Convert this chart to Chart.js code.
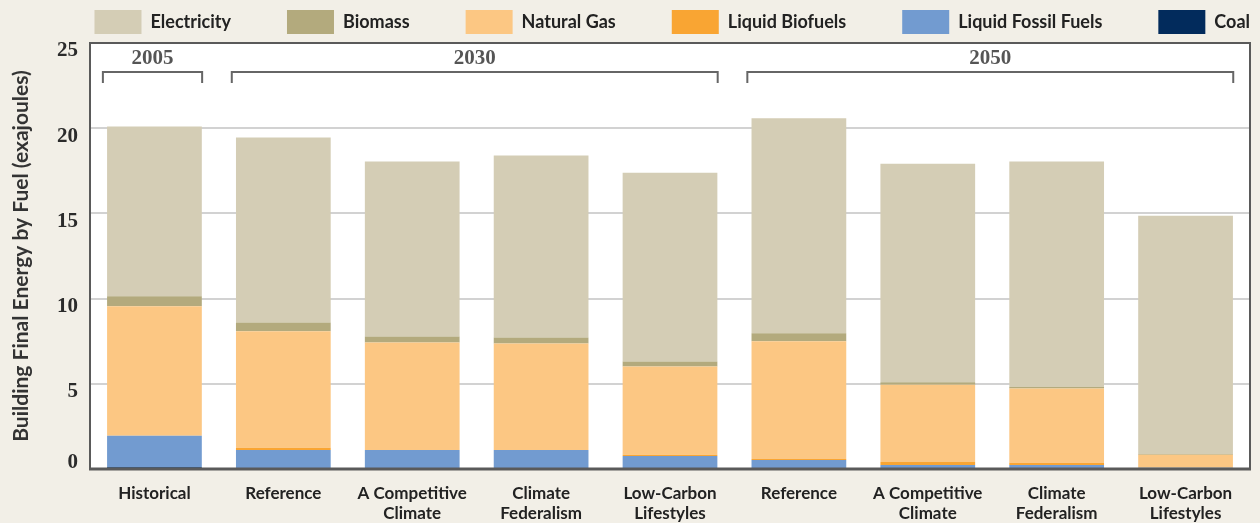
<!DOCTYPE html>
<html>
<head>
<meta charset="utf-8">
<title>Building Final Energy by Fuel</title>
<script src="https://cdn.jsdelivr.net/npm/chart.js@4/dist/chart.umd.min.js"></script>
<style>
  html, body { margin: 0; padding: 0; background: #f2efe7; }
  #wrap { width: 1260px; height: 523px; position: relative; }
</style>
</head>
<body>
<div id="wrap"><canvas id="fuelChart"></canvas></div>
<script>
// ─── DATA ──────────────────────────────────────────────────
const categories = [
  'Historical', 'Reference', ['A Competitive', 'Climate'], ['Climate', 'Federalism'], ['Low-Carbon', 'Lifestyles'],
  'Reference', ['A Competitive', 'Climate'], ['Climate', 'Federalism'], ['Low-Carbon', 'Lifestyles'],
];
const coal          = [0.10, 0.03, 0.03, 0.03, 0.03, 0.03, 0.02, 0.02, 0.01];
const liquidFossil  = [1.85, 1.09, 1.09, 1.09, 0.74, 0.50, 0.22, 0.22, 0.07];
const liquidBiofuel = [0.00, 0.12, 0.00, 0.00, 0.07, 0.06, 0.17, 0.13, 0.00];
const naturalGas    = [7.60, 6.84, 6.31, 6.25, 5.17, 6.90, 4.54, 4.35, 0.75];
const biomass       = [0.59, 0.52, 0.35, 0.35, 0.30, 0.47, 0.14, 0.11, 0.05];
const electricity   = [9.96, 10.86, 10.26, 10.68, 11.08, 12.62, 12.83, 13.21, 13.98];

const yTicks = [0, 5, 10, 15, 20, 25];

// year groups: label, first category index, last category index
const yearGroups = [
  { label: '2005', from: 0, to: 0 },
  { label: '2030', from: 1, to: 4 },
  { label: '2050', from: 5, to: 8 },
];

const SANS  = 'Lato, "Open Sans", sans-serif';
const SERIF = '"Liberation Serif", "DejaVu Serif", serif';

// ─── PLUGINS ───────────────────────────────────────────────
// white plot area
const plotBackground = {
  id: 'plotBackground',
  beforeDraw(chart) {
    const { ctx, chartArea: a } = chart;
    ctx.save();
    ctx.fillStyle = '#ffffff';
    ctx.fillRect(a.left, a.top, a.right - a.left, a.bottom - a.top);
    ctx.restore();
  },
};

// keep the legend on one line in a 43px strip with wide gaps between items
const legendStrip = {
  id: 'legendStrip',
  beforeInit(chart) {
    const fit = chart.legend.fit;
    chart.legend.fit = function () {
      const maxW = this.maxWidth;
      this.maxWidth = 5000;
      fit.call(this);
      this.maxWidth = maxW;
      this.width = maxW;
      this.height = 43;
    };
  },
  afterLayout(chart) {
    const pad = chart.legend.options.labels.padding;
    chart.legend.top = 10 - pad;
    chart.legend.right += pad;   // drop the trailing gap after "Coal"
  },
};

// frame, y tick labels, year brackets
const decorations = {
  id: 'decorations',
  afterDraw(chart) {
    const { ctx, chartArea: a, scales: { x, y } } = chart;
    ctx.save();

    // frame
    ctx.strokeStyle = '#5a5a5a';
    ctx.lineWidth = 2;
    ctx.strokeRect(a.left, a.top, a.right - a.left, a.bottom - a.top);
    ctx.beginPath();
    ctx.lineWidth = 3;
    ctx.moveTo(a.left - 1, a.bottom);
    ctx.lineTo(a.right + 1, a.bottom);
    ctx.stroke();

    // y tick labels (sit a little under their gridlines, except 0)
    ctx.font = 'bold 21px ' + SERIF;
    ctx.fillStyle = '#2b2b2b';
    ctx.textAlign = 'right';
    ctx.textBaseline = 'middle';
    yTicks.forEach(v => {
      const py = y.getPixelForValue(v) + (v === 0 ? -6 : 8);
      ctx.fillText(String(v), a.left - 12, py);
    });

    // year brackets
    const step = x.getPixelForValue(1) - x.getPixelForValue(0);
    ctx.strokeStyle = '#666666';
    ctx.lineWidth = 2;
    ctx.font = 'bold 21px ' + SERIF;
    ctx.fillStyle = '#555555';
    ctx.textAlign = 'center';
    ctx.textBaseline = 'middle';
    yearGroups.forEach(g => {
      const x0 = x.getPixelForValue(g.from) - step * 0.4;
      const x1 = x.getPixelForValue(g.to) + step * 0.37;
      const top = a.top + 29;
      ctx.beginPath();
      ctx.moveTo(x0, top + 11);
      ctx.lineTo(x0, top);
      ctx.lineTo(x1, top);
      ctx.lineTo(x1, top + 11);
      ctx.stroke();
      ctx.fillText(g.label, (x0 + x1) / 2, a.top + 16);
    });

    ctx.restore();
  },
};

// ─── CHART ─────────────────────────────────────────────────
const ds = (label, data, color) => ({
  label, data, backgroundColor: color, borderWidth: 0,
  barPercentage: 0.735, categoryPercentage: 1.0,
});

new Chart(document.getElementById('fuelChart'), {
  type: 'bar',
  data: {
    labels: categories,
    datasets: [
      ds('Coal',                coal,          '#022b5c'),
      ds('Liquid Fossil Fuels', liquidFossil,  '#729bd0'),
      ds('Liquid Biofuels',     liquidBiofuel, '#f9a533'),
      ds('Natural Gas',         naturalGas,    '#fcc783'),
      ds('Biomass',             biomass,       '#b3aa7d'),
      ds('Electricity',         electricity,   '#d4cdb5'),
    ],
  },
  options: {
    responsive: true,
    maintainAspectRatio: false,
    animation: false,
    layout: { padding: { left: 0, right: 10, top: 0, bottom: 0 } },
    plugins: {
      tooltip: { enabled: false },
      legend: {
        position: 'top',
        align: 'end',
        reverse: true,
        labels: {
          boxWidth: 47,
          boxHeight: 24,
          padding: 56,
          color: '#222222',
          font: { family: SANS, size: 18, weight: 'bold' },
        },
      },
    },
    scales: {
      x: {
        stacked: true,
        grid: { display: false },
        border: { display: false },
        ticks: {
          autoSkip: false,
          maxRotation: 0,
          padding: 6,
          color: '#222222',
          font: { family: SANS, size: 17, weight: 'bold', lineHeight: 1.18 },
        },
        afterFit(scale) { scale.height = 54; },
      },
      y: {
        stacked: true,
        min: 0,
        max: 25,
        grid: { color: '#d2d2d2', lineWidth: 2, drawTicks: false },
        border: { display: false },
        ticks: { display: false, stepSize: 5 },
        title: {
          display: true,
          text: 'Building Final Energy by Fuel (exajoules)',
          color: '#333333',
          padding: { top: 9, bottom: 0 },
          font: { family: SANS, size: 21, weight: 'bold' },
        },
        afterFit(scale) { scale.width = 90; },
      },
    },
  },
  plugins: [plotBackground, legendStrip, decorations],
});
</script>
</body>
</html>
